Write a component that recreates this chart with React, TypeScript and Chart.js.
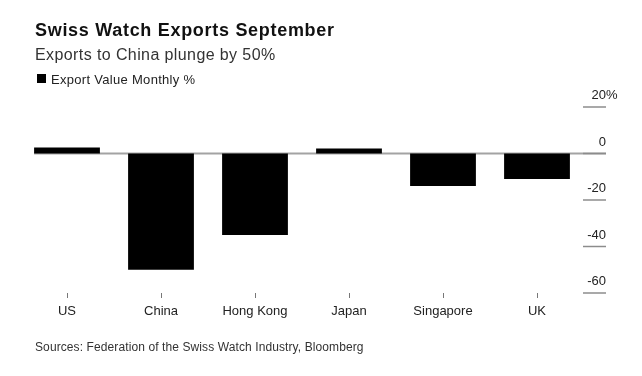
import React, { useEffect, useRef } from "react";
import { Chart, registerables } from "chart.js";

Chart.register(...registerables);

const categories = ["US", "China", "Hong Kong", "Japan", "Singapore", "UK"];
const exportValueMonthly = [2.6, -50, -35, 2.1, -14, -11];
const yMin = -60;
const yMax = 20;
const yStep = 20;

const FONT = "'Liberation Sans', Arial, sans-serif";

const yAxisPlugin = {
  id: "bbgYAxis",
  beforeDatasetsDraw(chart: any) {
    const ctx = chart.ctx;
    const y = chart.scales.y;
    const meta = chart.getDatasetMeta(0);
    const first: any = meta.data[0];
    const startX = first ? first.x - first.width / 2 : chart.chartArea.left;
    const zy = y.getPixelForValue(0);
    ctx.save();
    ctx.strokeStyle = "#a3a3a3";
    ctx.lineWidth = 2;
    ctx.beginPath();
    ctx.moveTo(startX, zy);
    ctx.lineTo(chart.chartArea.right + 22, zy);
    ctx.stroke();
    ctx.restore();
  },
  afterDraw(chart: any) {
    const ctx = chart.ctx;
    const y = chart.scales.y;
    const right = chart.chartArea.right;
    ctx.save();
    y.ticks.forEach((t: any) => {
      const py = y.getPixelForValue(t.value);
      ctx.strokeStyle = "#8c8c8c";
      ctx.lineWidth = 1.5;
      ctx.beginPath();
      ctx.moveTo(right - 1, py);
      ctx.lineTo(right + 22, py);
      ctx.stroke();
      ctx.fillStyle = "#222";
      ctx.font = `13px ${FONT}`;
      ctx.textAlign = "right";
      ctx.textBaseline = "alphabetic";
      const label = String(t.value);
      ctx.fillText(label, right + 22, py - 8);
      if (t.value === yMax) {
        ctx.textAlign = "left";
        ctx.fillText("%", right + 22, py - 8);
      }
    });
    ctx.restore();
  },
};

export default function App() {
  const canvasRef = useRef<HTMLCanvasElement | null>(null);

  useEffect(() => {
    if (!canvasRef.current) return;
    const chart = new Chart(canvasRef.current, {
      type: "bar",
      data: {
        labels: categories,
        datasets: [
          {
            label: "Export Value Monthly %",
            data: exportValueMonthly,
            backgroundColor: "#000000",
            borderWidth: 0,
            barPercentage: 0.7,
            categoryPercentage: 1.0,
          },
        ],
      },
      options: {
        responsive: false,
        animation: false,
        devicePixelRatio: 1,
        layout: { padding: { top: 107, left: 20, right: 58, bottom: 0 } },
        plugins: {
          legend: { display: false },
          title: { display: false },
          tooltip: { enabled: false },
        },
        scales: {
          x: {
            grid: {
              offset: false,
              drawOnChartArea: false,
              drawTicks: true,
              tickLength: 5,
              color: "#777",
              lineWidth: 1,
            },
            border: { display: false },
            ticks: {
              color: "#222",
              font: { family: FONT, size: 13 },
              padding: 6,
              maxRotation: 0,
              autoSkip: false,
            },
            afterFit: (s: any) => {
              s.height = 376 - 293;
            },
          },
          y: {
            min: yMin,
            max: yMax,
            grid: { display: false },
            border: { display: false },
            ticks: { display: false, stepSize: yStep },
            afterFit: (s: any) => {
              s.width = 0;
            },
          },
        },
      },
      plugins: [yAxisPlugin],
    });
    return () => chart.destroy();
  }, []);

  const abs = (o: React.CSSProperties): React.CSSProperties => ({
    position: "absolute",
    margin: 0,
    whiteSpace: "nowrap",
    fontFamily: FONT,
    ...o,
  });

  return (
    <div
      style={{
        position: "fixed",
        left: 0,
        top: 0,
        width: 642,
        height: 376,
        background: "#fff",
        overflow: "hidden",
      }}
    >
      <canvas
        ref={canvasRef}
        width={642}
        height={376}
        style={{ position: "absolute", left: 0, top: 0, width: 642, height: 376 }}
      />
      <div
        style={abs({
          left: 35,
          top: 21,
          fontSize: 18,
          lineHeight: "18px",
          fontWeight: 700,
          color: "#111",
          letterSpacing: 0.7,
        })}
      >
        Swiss Watch Exports September
      </div>
      <div
        style={abs({
          left: 35,
          top: 46.5,
          fontSize: 16,
          lineHeight: "16px",
          color: "#333",
          letterSpacing: 0.4,
        })}
      >
        Exports to China plunge by 50%
      </div>
      <div
        style={abs({
          left: 37,
          top: 74,
          width: 9,
          height: 9,
          background: "#000",
        })}
      />
      <div
        style={abs({
          left: 51,
          top: 72.5,
          fontSize: 13,
          lineHeight: "13px",
          color: "#222",
          letterSpacing: 0.3,
        })}
      >
        Export Value Monthly %
      </div>
      <div
        style={abs({
          left: 35,
          top: 341.3,
          fontSize: 12,
          lineHeight: "12px",
          color: "#333",
          letterSpacing: 0.1,
        })}
      >
        Sources: Federation of the Swiss Watch Industry, Bloomberg
      </div>
    </div>
  );
}
